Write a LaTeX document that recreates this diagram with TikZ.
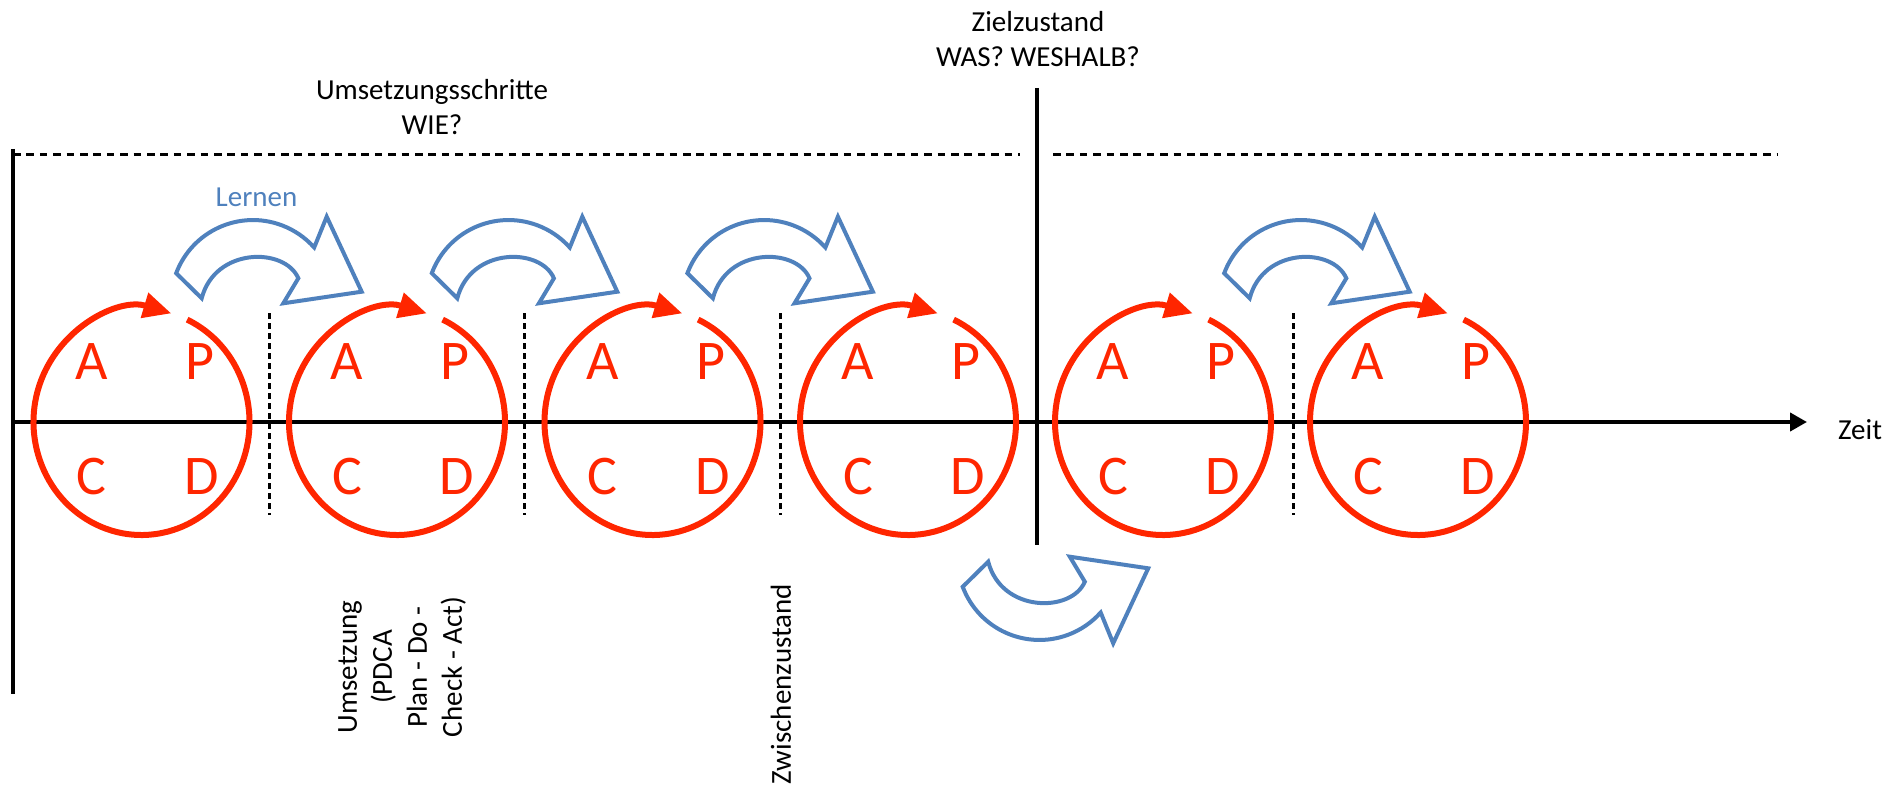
\documentclass[tikz,border=0pt]{standalone}
\usepackage{fontspec}
\setmainfont{Carlito}
\usepackage{xcolor}
\definecolor{colorCycle}{RGB}{255,38,0}
\definecolor{colorLearn}{RGB}{79,129,189}
\usetikzlibrary{arrows.meta}
\tikzset{cycle letter/.style={text=colorCycle, font=\fontsize{28}{32}\selectfont, inner sep=0pt},
  label text/.style={font=\fontsize{14.5}{17.5}\selectfont, align=center, inner sep=0pt},
  cycle arc/.style={draw=colorCycle, line width=3pt, -{Triangle[length=14pt, width=12.5pt]}},
  learn arrow/.style={draw=colorLearn, fill=white, line width=2pt, line join=miter},
  phase divider/.style={line width=1.5pt, dash pattern=on 3pt off 2pt},
  scope line/.style={line width=1.5pt, dash pattern=on 3.8pt off 2.9pt}}

\begin{document}
\begin{tikzpicture}[x=0.5pt, y=0.5pt, >={Triangle[length=8.5pt, width=9pt]}]
\useasboundingbox (0,0) rectangle (1899,794);
\coordinate (axisStart) at (13,372);
\coordinate (axisEnd) at (1807,372);
\coordinate (leftTop) at (13,645);
\coordinate (leftBottom) at (13,100);
\coordinate (goalTop) at (1037,706);
\coordinate (goalBottom) at (1037,249);
\coordinate (scopeA) at (13,639);
\coordinate (scopeB) at (1020,639);
\coordinate (scopeC) at (1053,639);
\coordinate (scopeD) at (1778,639);
\draw[line width=2pt] (leftTop) -- (leftBottom);
\draw[line width=2pt, ->] (axisStart) -- (axisEnd);
\draw[line width=1.75pt] (goalTop) -- (goalBottom);
\draw[scope line] (scopeA) -- (scopeB);
\draw[scope line] (scopeC) -- (scopeD);
\foreach \i/\dx in {1/269, 2/524.5, 3/780, 4/1293} {
  \coordinate (divTop\i) at (\dx,481);
  \coordinate (divBottom\i) at (\dx,279);
  \draw[phase divider] (divTop\i) -- (divBottom\i);
}
\foreach \i/\cx in {1/141.5, 2/397, 3/652.5, 4/908, 5/1163, 6/1418} {
  \coordinate (cyc\i) at (\cx,372);
  \draw[cycle arc] (cyc\i) ++(65:108 and 113) arc[start angle=65, end angle=-286, x radius=108, y radius=113];
  \node[cycle letter] (A\i) at (\cx-50,432) {A};
  \node[cycle letter] (P\i) at (\cx+58,432) {P};
  \node[cycle letter] (C\i) at (\cx-50,317) {C};
  \node[cycle letter] (D\i) at (\cx+60,317) {D};
}
\foreach \ax/\ay/\af in {250/494/1, 505.6/494/1, 761.2/494/1, 1298/494/1, 1036.5/234/-1} {
  \draw[learn arrow, shift={(\ax,\ay)}, yscale=\af] (-73.8,26.8) arc[start angle=159.4, end angle=41.7, radius=82] -- (76.7,83.3) -- (111.7,8.3) -- (33.3,-3.3) -- (48.3,21.7) .. controls (35,53) and (-35,53) .. (-48.3,1.7) -- cycle;
}
\node[label text] (stepsLabel) at (432,687) {Umsetzungsschritte\\WIE?};
\node[label text] (goalLabel) at (1038,755) {Zielzustand\\WAS? WESHALB?};
\node[label text, text=colorLearn] (learnLabel) at (256.5,597) {Lernen};
\node[label text] (timeLabel) at (1860,364) {Zeit};
\node[label text, rotate=90] (pdcaLabel) at (402,127) {Umsetzung\\(PDCA\\Plan - Do -\\Check - Act)};
\node[label text, rotate=90] (midLabel) at (781,110) {Zwischenzustand};
\end{tikzpicture}
\end{document}
